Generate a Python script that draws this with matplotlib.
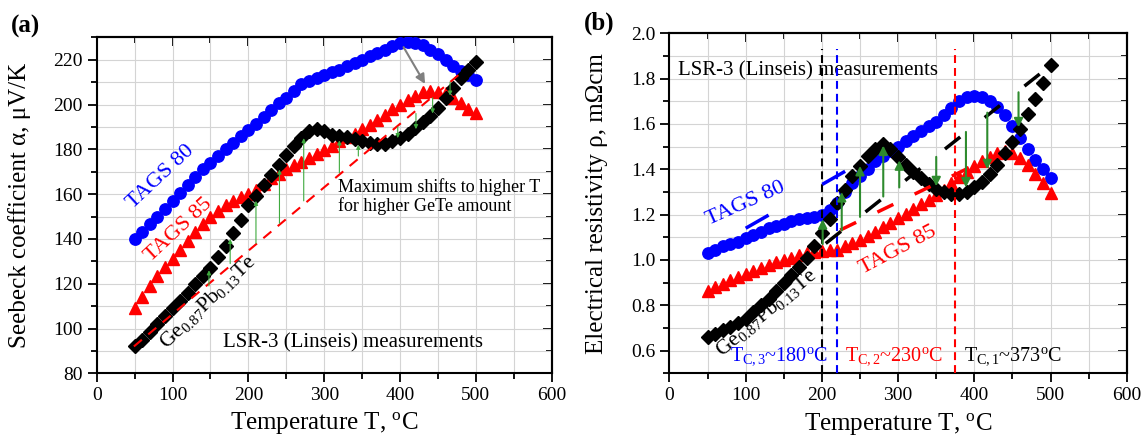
"""Seebeck coefficient (a) and electrical resistivity (b) of TAGS 80, TAGS 85
and Ge0.87Pb0.13Te versus temperature (LSR-3 measurements)."""
import matplotlib

matplotlib.use("Agg")
import matplotlib.pyplot as plt
from matplotlib.ticker import MultipleLocator, FormatStrFormatter

plt.rcParams["font.family"] = ["Liberation Serif", "DejaVu Serif"]
plt.rcParams["mathtext.fontset"] = "custom"
plt.rcParams["mathtext.rm"] = "Liberation Serif"
plt.rcParams["mathtext.it"] = "Liberation Serif:italic"
plt.rcParams["mathtext.bf"] = "Liberation Serif:bold"

# ---- data -----------------------------------------------------------------
temps = [50, 60, 70, 80, 90, 100, 110, 120, 130, 140, 150, 160, 170, 180, 190,
         200, 210, 220, 230, 240, 250, 260, 270, 280, 290, 300, 310, 320, 330,
         340, 350, 360, 370, 380, 390, 400, 410, 420, 430, 440, 450, 460, 470,
         480, 490, 500]

seebeck_tags80 = [140, 143, 146.5, 150, 153.5, 157, 160.5, 164, 167.5, 171,
                  174, 177, 180, 183, 186, 188.5, 191.5, 194.5, 197.5, 200.5,
                  203, 206, 209, 210.5, 212, 213, 214.5, 215.5, 217, 218.5,
                  220, 221.5, 223, 224.5, 226, 227.5, 228, 227.5, 226.5, 224.5,
                  222.5, 220, 217, 215, 213, 211]
seebeck_tags85 = [109, 114, 119, 123.5, 127.5, 131, 135, 139, 143, 146.5,
                  150, 152.5, 155, 157, 158.5, 160, 162, 164.5, 167, 169,
                  171, 173, 174.5, 176, 178, 179.5, 181.5, 183.5, 185.5, 187,
                  189, 191, 193, 195.5, 198, 200, 202, 204, 205.5, 206,
                  205.5, 205, 203, 200.5, 198, 196]
seebeck_gepbte = [92, 95, 98.5, 102, 105.5, 109, 112.5, 116, 120, 123.5,
                  127, 132, 137, 142.5, 148.5, 155, 159, 164, 168.5, 173,
                  177.5, 181.5, 185, 188, 189, 188, 186.5, 186, 185.5, 184.5,
                  183.5, 183, 182.5, 182.5, 183.5, 185, 187, 189.5, 192, 195,
                  198.5, 203, 207.5, 212, 215.5, 219]

rho_tags80 = [1.03, 1.045, 1.06, 1.07, 1.08, 1.095, 1.11, 1.125, 1.14, 1.15,
              1.16, 1.17, 1.18, 1.185, 1.19, 1.20, 1.22, 1.25, 1.30, 1.34,
              1.37, 1.40, 1.435, 1.46, 1.48, 1.50, 1.525, 1.545, 1.57, 1.59,
              1.61, 1.64, 1.67, 1.70, 1.72, 1.725, 1.72, 1.70, 1.675, 1.64,
              1.59, 1.54, 1.49, 1.44, 1.40, 1.36]
rho_tags85 = [0.865, 0.88, 0.895, 0.91, 0.925, 0.94, 0.953, 0.965, 0.977, 0.99,
              1.0, 1.01, 1.02, 1.03, 1.037, 1.04, 1.042, 1.045, 1.06, 1.075,
              1.09, 1.105, 1.125, 1.145, 1.165, 1.185, 1.205, 1.225, 1.245, 1.265,
              1.285, 1.31, 1.34, 1.365, 1.39, 1.415, 1.435, 1.455, 1.47, 1.48,
              1.47, 1.45, 1.42, 1.38, 1.34, 1.296]
rho_gepbte = [0.66, 0.675, 0.69, 0.705, 0.72, 0.74, 0.77, 0.80, 0.83, 0.865,
              0.90, 0.935, 0.97, 1.01, 1.06, 1.12, 1.18, 1.25, 1.31, 1.37,
              1.415, 1.46, 1.49, 1.51, 1.49, 1.455, 1.42, 1.39, 1.36, 1.335,
              1.315, 1.30, 1.29, 1.29, 1.30, 1.32, 1.345, 1.38, 1.42, 1.47,
              1.52, 1.58, 1.645, 1.71, 1.78, 1.86]

# dashed guide lines (end points)
seebeck_guide_t = [49, 480]
seebeck_guide = [92, 214]
rho_guide_black_t, rho_guide_black = [205, 498], [1.073, 1.853]
rho_guide_blue_t, rho_guide_blue = [100, 235], [1.14, 1.40]
rho_guide_red_t, rho_guide_red = [224, 392], [1.132, 1.405]

# green shift arrows: temperature, start, end
seebeck_arrow_t = [148, 176, 210, 241, 273, 320, 345, 397, 421, 443, 466]
seebeck_arrow_from = [119, 129, 138, 147, 157, 169.5, 177, 190, 196, 203, 210]
seebeck_arrow_to = [126, 140, 157, 171, 185, 184, 182, 185, 189, 196, 204]

rho_arrow_t = [201, 226, 250, 280.5, 301.5, 350, 389, 417, 458]
rho_arrow_from = [1.07, 1.13, 1.19, 1.28, 1.32, 1.455, 1.565, 1.65, 1.74]
rho_arrow_to = [1.18, 1.30, 1.415, 1.505, 1.44, 1.325, 1.32, 1.40, 1.585]

# phase-transition temperatures marked in (b)
tc_t = [200, 220, 375]
tc_colors = ["black", "blue", "red"]

DEG = r"$^{\mathrm{o}}$"
GE_LABEL = r"Ge$_{0.87}$Pb$_{0.13}$Te"


def style_axes(ax, ymin, ymax, ymajor, yminor, yfmt):
    ax.set_xlim(0, 600)
    ax.set_ylim(ymin, ymax)
    ax.xaxis.set_major_locator(MultipleLocator(100))
    ax.xaxis.set_minor_locator(MultipleLocator(50))
    ax.yaxis.set_major_locator(MultipleLocator(ymajor))
    ax.yaxis.set_minor_locator(MultipleLocator(yminor))
    ax.yaxis.set_major_formatter(FormatStrFormatter(yfmt))
    ax.grid(True, which="both", color="#d4d4d4", lw=0.8)
    ax.set_axisbelow(True)
    ax.tick_params(which="both", direction="out", labelsize=14, width=1.3)
    ax.tick_params(which="major", length=6.5)
    ax.tick_params(which="minor", length=4)
    for s in ax.spines.values():
        s.set_linewidth(1.5)
    # mirrored ticks pointing inward on top / right
    top = ax.secondary_xaxis("top")
    top.xaxis.set_major_locator(MultipleLocator(100))
    top.xaxis.set_minor_locator(MultipleLocator(50))
    top.tick_params(which="both", direction="in", labeltop=False, width=1.3)
    top.tick_params(which="major", length=6.5)
    top.tick_params(which="minor", length=4)
    right = ax.secondary_yaxis("right")
    right.yaxis.set_major_locator(MultipleLocator(ymajor))
    right.yaxis.set_minor_locator(MultipleLocator(yminor))
    right.tick_params(which="both", direction="in", labelright=False, width=1.3)
    right.tick_params(which="major", length=6.5)
    right.tick_params(which="minor", length=4)
    for sec in (top, right):
        for s in sec.spines.values():
            s.set_linewidth(1.5)
    ax.set_xlabel("Temperature T, " + DEG + "C", fontsize=18, va="top")
    ax.xaxis.set_label_coords(0.5, -0.11)


def plot_series(ax, a80, a85, gpt):
    ax.plot(temps, a80, "o", color="blue", ms=8.2, mec="blue", zorder=3)
    ax.plot(temps, a85, "^", color="red", ms=9, mec="red", zorder=3)
    ax.plot(temps, gpt, "D", color="black", ms=6.8, mec="black", zorder=4)


def arrows(ax, ts, y0s, y1s, color, lw, ms):
    for t, y0, y1 in zip(ts, y0s, y1s):
        ax.annotate("", xy=(t, y1), xytext=(t, y0),
                    arrowprops=dict(arrowstyle="-|>", color=color, lw=lw,
                                    mutation_scale=ms, shrinkA=0, shrinkB=0),
                    zorder=6)


fig = plt.figure(figsize=(11.46, 4.45), dpi=100)
ax_a = fig.add_axes([0.0844, 0.1611, 0.397, 0.755])
ax_b = fig.add_axes([0.5842, 0.1611, 0.399, 0.764])

# ---- (a) Seebeck ----------------------------------------------------------
style_axes(ax_a, 80, 230, 20, 10, "%d")
plot_series(ax_a, seebeck_tags80, seebeck_tags85, seebeck_gepbte)
ax_a.plot(seebeck_guide_t, seebeck_guide, color="red", lw=1.5,
          dashes=(5, 4), zorder=5)
arrows(ax_a, seebeck_arrow_t, seebeck_arrow_from, seebeck_arrow_to,
       "#3faa3f", 0.8, 6)
ax_a.annotate("", xy=(433, 209.2), xytext=(404.7, 225.6),
              arrowprops=dict(arrowstyle="-|>", color="#808080", lw=1.5,
                              mutation_scale=14, shrinkA=0, shrinkB=0),
              zorder=6)
ax_a.set_ylabel("Seebeck coefficient α, μV/K", fontsize=18)
ax_a.yaxis.set_label_coords(-0.145, 0.5)
ax_a.text(84.7, 167.7, "TAGS 80", color="blue", fontsize=16, rotation=43,
          ha="center", va="center", rotation_mode="anchor")
ax_a.text(108, 143.9, "TAGS 85", color="red", fontsize=16, rotation=43,
          ha="center", va="center", rotation_mode="anchor")
ax_a.text(147, 112, GE_LABEL, color="black", fontsize=15.5, rotation=44,
          ha="center", va="center", rotation_mode="anchor")
ax_a.text(167, 93.5, "LSR-3 (Linseis) measurements", fontsize=15,
          ha="left", va="center")
ax_a.text(317.6, 159, "Maximum shifts to higher T\nfor higher GeTe amount",
          fontsize=13, ha="left", va="center", linespacing=1.1)
fig.text(0.022, 0.94, "(a)", fontsize=18, fontweight="bold",
         ha="center", va="center")

# ---- (b) resistivity ------------------------------------------------------
style_axes(ax_b, 0.5, 2.0, 0.2, 0.1, "%.1f")
plot_series(ax_b, rho_tags80, rho_tags85, rho_gepbte)
for t, c in zip(tc_t, tc_colors):
    ax_b.plot([t, t], [0.5, 1.93], color=c, lw=1.5, dashes=(3.8, 2.4),
              zorder=5)
ax_b.plot(rho_guide_black_t, rho_guide_black, color="black", lw=2.5,
          dashes=(5.6, 9), zorder=5)
ax_b.plot(rho_guide_blue_t, rho_guide_blue, color="blue", lw=2.5,
          dashes=(7.6, 17.8), zorder=5)
ax_b.plot(rho_guide_red_t, rho_guide_red, color="red", lw=2.5,
          dashes=(5.1, 6.8), zorder=5)
arrows(ax_b, rho_arrow_t, rho_arrow_from, rho_arrow_to, "#2e8b2e", 1.5, 13)
ax_b.set_ylabel("Electrical resistivity ρ, mΩcm", fontsize=18)
ax_b.yaxis.set_label_coords(-0.135, 0.5)
ax_b.text(99.4, 1.249, "TAGS 80", color="blue", fontsize=16, rotation=24,
          ha="center", va="center", rotation_mode="anchor")
ax_b.text(299.3, 1.044, "TAGS 85", color="red", fontsize=16, rotation=28,
          ha="center", va="center", rotation_mode="anchor")
ax_b.text(127, 0.77, GE_LABEL, color="black", fontsize=15.5, rotation=40,
          ha="center", va="center", rotation_mode="anchor")
ax_b.text(11, 1.833, "LSR-3 (Linseis) measurements", fontsize=15,
          ha="left", va="center")
ax_b.text(79.4, 0.574, r"T$_{\mathrm{C,3}}$~180" + DEG + "C", color="blue",
          fontsize=14.5, ha="left", va="center")
ax_b.text(230, 0.574, r"T$_{\mathrm{C,2}}$~230" + DEG + "C", color="red",
          fontsize=14.5, ha="left", va="center")
ax_b.text(386.6, 0.574, r"T$_{\mathrm{C,1}}$~373" + DEG + "C", color="black",
          fontsize=14.5, ha="left", va="center")
fig.text(0.523, 0.948, "(b)", fontsize=18, fontweight="bold",
         ha="center", va="center")

fig.savefig("out.png", dpi=100)
